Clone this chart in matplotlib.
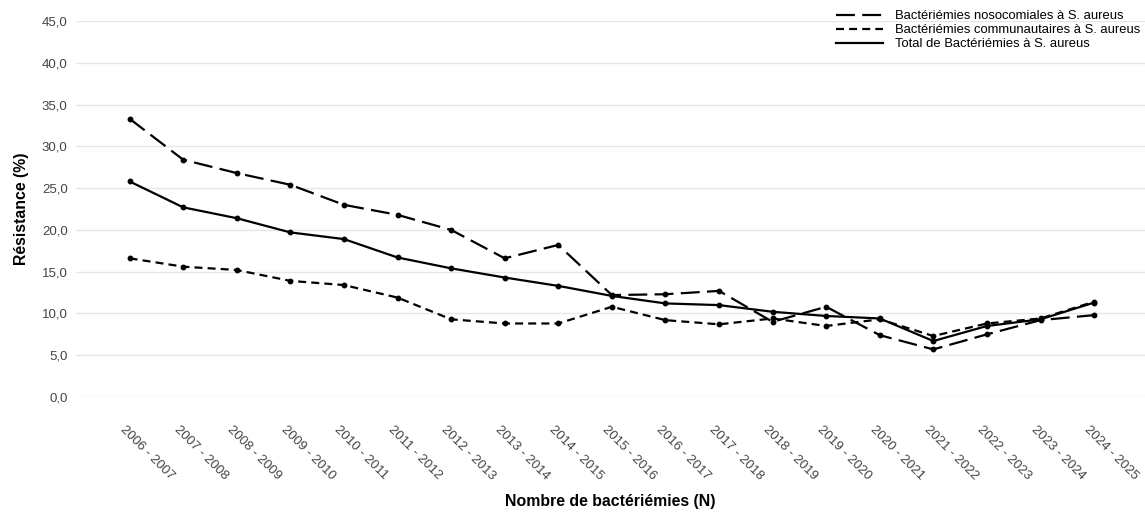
import matplotlib
matplotlib.use("Agg")
import matplotlib.pyplot as plt
from matplotlib.transforms import ScaledTranslation

plt.rcParams['font.family'] = ['Liberation Sans', 'DejaVu Sans']

categories = ["2006 - 2007", "2007 - 2008", "2008 - 2009", "2009 - 2010", "2010 - 2011",
              "2011 - 2012", "2012 - 2013", "2013 - 2014", "2014 - 2015", "2015 - 2016",
              "2016 - 2017", "2017 - 2018", "2018 - 2019", "2019 - 2020", "2020 - 2021",
              "2021 - 2022", "2022 - 2023", "2023 - 2024", "2024 - 2025"]

nosocomiales = [33.3, 28.4, 26.8, 25.4, 23.0, 21.8, 20.0, 16.6, 18.2, 12.2,
                12.3, 12.7, 9.0, 10.8, 7.4, 5.7, 7.5, 9.2, 9.8]
communautaires = [16.6, 15.6, 15.2, 13.9, 13.4, 11.9, 9.3, 8.8, 8.8, 10.8,
                  9.2, 8.7, 9.4, 8.5, 9.3, 7.3, 8.8, 9.4, 11.4]
total = [25.8, 22.7, 21.4, 19.7, 18.9, 16.7, 15.4, 14.3, 13.3, 12.1,
         11.2, 11.0, 10.2, 9.7, 9.4, 6.7, 8.5, 9.3, 11.3]

series_labels = ["Bactériémies nosocomiales à S. aureus",
                 "Bactériémies communautaires à S. aureus",
                 "Total de Bactériémies à S. aureus"]

yticks = [0, 5, 10, 15, 20, 25, 30, 35, 40, 45]

fig = plt.figure(figsize=(11.45, 5.15), dpi=100)
ax = fig.add_axes([0.0664, 0.2291, 0.9336, 0.7301])

x = list(range(len(categories)))
lw = 1.6
l1, = ax.plot(x, nosocomiales, color='black', lw=lw, marker='o', ms=3.2,
              label=series_labels[0], clip_on=False)
l1.set_dashes([8.5, 3.3])
l2, = ax.plot(x, communautaires, color='black', lw=lw, marker='o', ms=3.2,
              label=series_labels[1], clip_on=False)
l2.set_dashes([3.6, 2.3])
l3, = ax.plot(x, total, color='black', lw=lw, marker='o', ms=3.2,
              label=series_labels[2], clip_on=False)

ax.set_xlim(-1, len(categories) - 0.05)
ax.set_ylim(0, 45)
ax.set_yticks(yticks)
ax.set_yticklabels([f"{v:.1f}".replace('.', ',') for v in yticks])
ax.set_xticks(x)
ax.set_xticklabels([])

# category labels placed on the x axis positions, rotated
lab_tr = ax.get_xaxis_transform() + ScaledTranslation(-0.075, -0.305, fig.dpi_scale_trans)
for xi, cat in zip(x, categories):
    ax.text(xi, 0, cat, transform=lab_tr, rotation=-45, ha='left', va='center',
            rotation_mode='anchor', fontsize=9.5, color='#444444', clip_on=False)

ax.grid(axis='y', color='#e6e6e6', lw=1)
ax.set_axisbelow(True)
for s in ax.spines.values():
    s.set_visible(False)
ax.tick_params(axis='both', length=0, labelsize=9.5, labelcolor='#444444')
ax.tick_params(axis='y', pad=6)

ax.set_xlabel("Nombre de bactériémies (N)", fontsize=11.4, fontweight='bold')
ax.xaxis.set_label_coords(0.5, -0.258)
ax.set_ylabel("Résistance (%)", fontsize=11.4, fontweight='bold', labelpad=9)

leg = ax.legend(handles=[l1, l2, l3], loc='upper right', bbox_to_anchor=(1.003, 1.05),
                frameon=False, fontsize=9.4, handlelength=3.6, handletextpad=0.9,
                labelspacing=0.15, borderaxespad=0.2)
for h in leg.get_lines():
    h.set_marker('')

fig.savefig("out.png", dpi=100)
